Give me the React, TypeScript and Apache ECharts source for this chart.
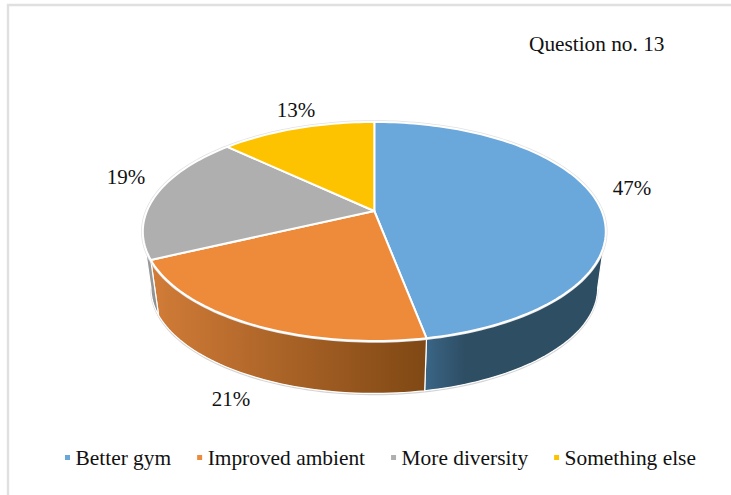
import React, { useEffect, useRef } from "react";
import * as echarts from "echarts";

const categories = ["Better gym", "Improved ambient", "More diversity", "Something else"];
const values = [47, 21, 19, 13];
const topColors = ["#6AA8DC", "#ED8B3B", "#AFAFAF", "#FEC300"];
const sideFrom = ["#3A6687", "#D27C38", "#A3A3A3", "#FEC300"];
const sideTo = ["#2E4E64", "#7F4814", "#8C8C8C", "#FEC300"];
const labelPos: [number, number][] = [[632, 188], [231, 399], [126, 177], [296, 110]];

// pie projection (tilted disc with perspective)
const APEX_X = 374.3;
const APEX_Y = 211;
const C = 227.4;
const A = 105.7;
const K = -0.187;
const BOTTOM_SCALE = 0.965;
const BOTTOM_DY = 57;
const VIS_FROM = 100.8;
const VIS_TO = 259.2;

const project = (deg: number, bottom: boolean): [number, number] => {
  const t = (deg * Math.PI) / 180;
  const X = Math.sin(t);
  const Y = -Math.cos(t);
  const w = 1 + K * Y;
  const s = bottom ? BOTTOM_SCALE : 1;
  return [APEX_X + (s * C * X) / w, APEX_Y + (bottom ? BOTTOM_DY : 0) + (s * A * Y) / w];
};

const arc = (a: number, b: number, bottom: boolean) => {
  const pts: [number, number][] = [];
  const n = Math.max(2, Math.ceil(Math.abs(b - a) / 1.5));
  for (let i = 0; i <= n; i++) pts.push(project(a + ((b - a) * i) / n, bottom));
  return pts;
};

const total = values.reduce((s, v) => s + v, 0);
const startOf = (i: number) => (values.slice(0, i).reduce((s, v) => s + v, 0) / total) * 360;

const makeItem = (i: number) => () => {
  const a = startOf(i);
  const b = a + (values[i] / total) * 360;
  const children: any[] = [];
  const from = Math.max(a, VIS_FROM);
  const to = Math.min(b, VIS_TO);
  if (to > from) {
    const topArc = arc(from, to, false);
    const botArc = arc(from, to, true);
    const pts = [...topArc, ...botArc.slice().reverse()];
    children.push({
      type: "polyline",
      z2: 1,
      silent: true,
      shape: { points: botArc.map((p) => [p[0], p[1] + 1]) },
      style: { fill: "none", stroke: "#D4D4D4", lineWidth: 1.5 },
    });
    const stops = i === 0
      ? [{ offset: 0, color: sideFrom[i] }, { offset: 0.22, color: sideTo[i] }, { offset: 1, color: sideTo[i] }]
      : [{ offset: 0, color: sideFrom[i] }, { offset: 1, color: sideTo[i] }];
    children.push({
      type: "polygon",
      z2: 2,
      silent: true,
      shape: { points: pts },
      style: {
        fill: new echarts.graphic.LinearGradient(0, 0, 1, 0, stops),
        stroke: "#FFFFFF",
        lineWidth: 1.2,
        lineJoin: "round",
      },
    });
  }
  const rim = arc(a, b, false);
  children.push({
    type: "polyline",
    z2: 3,
    silent: true,
    shape: { points: arc(a, b, false) },
    style: { fill: "none", stroke: "#E2E2E2", lineWidth: 3.5 },
  });
  children.push({
    type: "polygon",
    z2: 4,
    silent: true,
    shape: { points: [[APEX_X, APEX_Y], ...rim] },
    style: { fill: topColors[i], stroke: "#FFFFFF", lineWidth: 2, lineJoin: "round" },
  });
  const [lx, ly] = labelPos[i];
  children.push({
    type: "text",
    z2: 5,
    silent: true,
    style: {
      x: lx,
      y: ly,
      text: `${values[i]}%`,
      fill: "#111111",
      font: "21px 'Liberation Serif'",
      align: "center",
      verticalAlign: "middle",
    },
  });
  return { type: "group", children };
};

export default function App() {
  const ref = useRef<HTMLDivElement>(null);
  useEffect(() => {
    const chart = echarts.init(ref.current!, undefined, { renderer: "svg" });
    chart.setOption({
      animation: false,
      backgroundColor: "#FFFFFF",
      title: {
        text: "Question no. 13",
        left: 529,
        top: 33,
        padding: 0,
        textStyle: { fontFamily: "Liberation Serif", fontSize: 21.3, fontWeight: "normal", color: "#111111" },
      },
      legend: {
        left: 65,
        top: 447,
        padding: 0,
        itemWidth: 5,
        itemHeight: 5,
        itemGap: 26,
        icon: "rect",
        data: categories,
        selectedMode: false,
        textStyle: {
          fontFamily: "Liberation Serif",
          fontSize: 21.4,
          color: "#111111",
          padding: [6, 0, 0, 0.5],
        },
      },
      graphic: [
        { type: "line", silent: true, shape: { x1: 7, y1: 5, x2: 731, y2: 5 }, style: { stroke: "#E0E0E0", lineWidth: 2.4 } },
        { type: "line", silent: true, shape: { x1: 8, y1: 4, x2: 8, y2: 495 }, style: { stroke: "#E0E0E0", lineWidth: 2.4 } },
      ],
      series: categories.map((name, i) => ({
        type: "custom",
        name,
        coordinateSystem: "none",
        silent: true,
        itemStyle: { color: topColors[i] },
        data: [values[i]],
        renderItem: makeItem(i),
      })),
    });
    return () => chart.dispose();
  }, []);
  return <div ref={ref} style={{ position: "fixed", left: 0, top: 0, width: 731, height: 495 }} />;
}
